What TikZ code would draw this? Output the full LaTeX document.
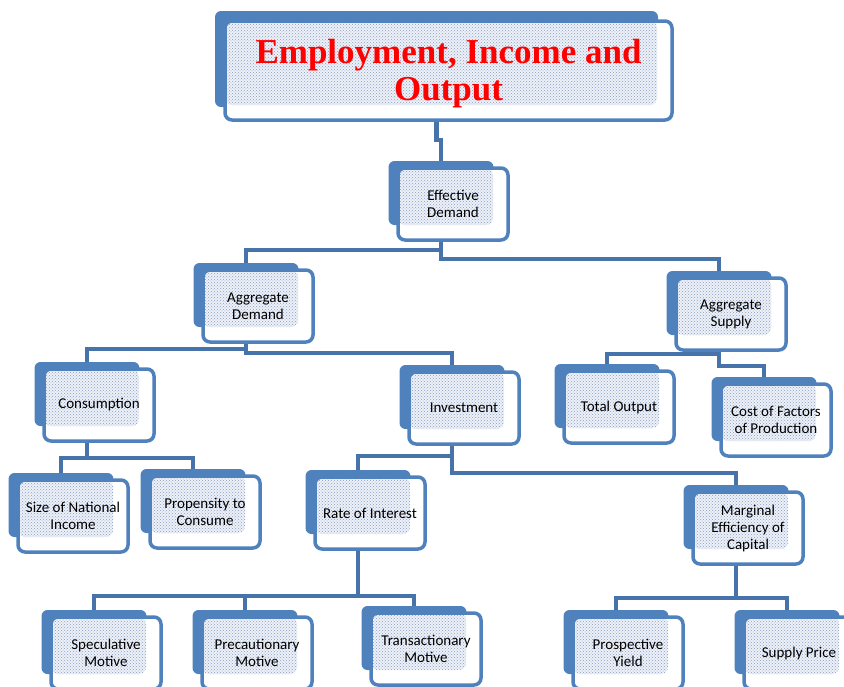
\documentclass[tikz,border=0pt]{standalone}
\usepackage{fontspec}
\setmainfont{Carlito}
\newfontfamily\titlefont{Liberation Serif}
\usetikzlibrary{patterns}
\definecolor{boxblue}{RGB}{79,129,189}
\definecolor{linkblue}{RGB}{70,116,170}
\definecolor{dotblue}{RGB}{135,158,198}
\definecolor{paleblue}{RGB}{238,241,247}

\begin{document}
\begin{tikzpicture}[x=1pt,y=-1pt,
  texture/.style={path picture={\fill[paleblue] (path picture bounding box.north west) rectangle ([shift={(-15,-15)}]path picture bounding box.south east);
    \fill[pattern=crosshatch dots, pattern color=dotblue] (path picture bounding box.north west) rectangle ([shift={(-15,-15)}]path picture bounding box.south east);}},
  front/.style={draw=boxblue, line width=3.5pt, fill=white, rounded corners=7pt, texture, minimum width=110pt, minimum height=72pt, align=center, font=\fontsize{15}{17}\selectfont},
  back/.style={fill=boxblue, rounded corners=6pt, minimum width=105pt, minimum height=64pt},
  link/.style={draw=linkblue, line width=4.5pt}]
  \useasboundingbox (0,0) rectangle (844,686);
  \clip (0,0) rectangle (844,686);
  % Title box
  \node[back, minimum width=443pt, minimum height=96pt] (title-b) at (436.5,59) {};
  \node[front, minimum width=447pt, minimum height=99pt, font=\titlefont\bfseries\fontsize{35}{37}\selectfont, text=red] (title) at (448.5,70.5) {\rule{0pt}{31pt}Employment, Income and\\Output};
  % Draw the boxes
  \foreach \n/\x/\y/\t in {eff/453/204/{Effective\\Demand}, agd/258/306/{Aggregate\\Demand}, ags/731/314/{Aggregate\\Supply},
    con/99/405/{Consumption}, inv/464/408/{Investment}, tot/619/407/{Total Output}, cof/776/420/{Cost of Factors\\of Production},
    sni/73/516/{Size of National\\Income}, prc/205/512/{Propensity to\\Consume}, roi/370/513/{Rate of Interest}, mec/748/528/{Marginal\\Efficiency of\\Capital},
    spm/106/653/{Speculative\\Motive}, pcm/257/653/{Precautionary\\Motive}, trm/426/649/{Transactionary\\Motive}, pry/628/653/{Prospective\\Yield}, sup/799/653/{Supply Price}}
  {
    \node[back] (\n-b) at (\x-12,\y-11) {};
    \node[front] (\n) at (\x,\y) {\t};
  }
  % Connect the levels
  \draw[link] (title.south -| title-b) -- ++(0,18) -| (eff-b.north);
  \draw[link] (eff.south -| eff-b) -- ++(0,8) -| (agd-b.north);
  \draw[link] (eff.south -| eff-b) -- ++(0,17) -| (ags-b.north);
  \draw[link] (agd.south -| agd-b) -- ++(0,5) -| (con-b.north);
  \draw[link] (agd.south -| agd-b) -- ++(0,9) -| (inv-b.north);
  \draw[link] (ags.south -| ags-b) -- ++(0,2) -| (tot-b.north);
  \draw[link] (ags.south -| ags-b) -- ++(0,14) -| (cof-b.north);
  \draw[link] (con.south -| con-b) -- ++(0,15) -| (sni-b.north);
  \draw[link] (con.south -| con-b) -- ++(0,15) -| (prc-b.north);
  \draw[link] (inv.south -| inv-b) -- ++(0,10) -| (roi-b.north);
  \draw[link] (inv.south -| inv-b) -- ++(0,27) -| (mec-b.north);
  \draw[link] (roi.south -| roi-b) -- ++(0,45) -| (spm-b.north);
  \draw[link] (roi.south -| roi-b) -- ++(0,45) -| (pcm-b.north);
  \draw[link] (roi.south -| roi-b) -- ++(0,45) -| (trm-b.north);
  \draw[link] (mec.south -| mec-b) -- ++(0,32) -| (pry-b.north);
  \draw[link] (mec.south -| mec-b) -- ++(0,32) -| (sup-b.north);
\end{tikzpicture}
\end{document}
